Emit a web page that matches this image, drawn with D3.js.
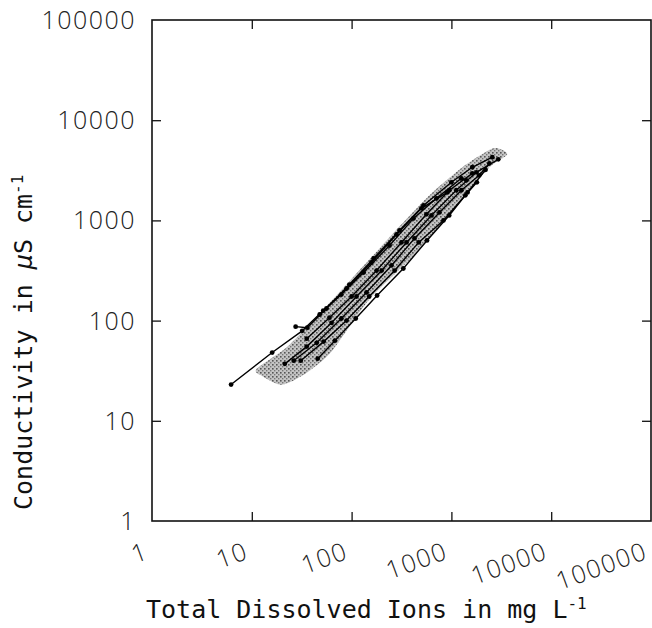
<!DOCTYPE html>
<html lang="en">
  <head>
    <meta charset="utf-8">
    <title>Conductivity vs Total Dissolved Ions</title>
    <style>
body { margin: 0; background: #fff; }
.tick-label { font-family: "Open Sans", "Liberation Sans", sans-serif; font-weight: 300; font-size: 25px; fill: #222; letter-spacing: 1.5px; }
.axis-title { font-family: "DejaVu Sans Mono", monospace; font-size: 25px; fill: #111; }
.series { fill: none; stroke: #000; stroke-width: 1.4px; }
.dot { fill: #000; }
.frame { fill: none; stroke: #111; stroke-width: 1.6px; }
.axis .tick line { stroke: #111; stroke-width: 1.3px; }
.axis .domain { display: none; }
    </style>
    <script src="https://cdn.jsdelivr.net/npm/d3@7"></script>
  </head>
  <body>
    <svg width="652" height="628"></svg>
<script>

var decades = [1, 10, 100, 1000, 10000, 100000];
var innerTicks = [10, 100, 1000, 10000];
var tickLabels = ["1", "10", "100", "1000", "10000", "100000"];

// stations: total dissolved ions (mg/L) against conductivity (uS/cm)
var s1Tdi  = [6.2, 16, 32, 52, 89, 158, 282, 500, 910];
var s1Cond = [23, 48, 79, 126, 209, 380, 724, 1320, 1900];
var s2Tdi  = [27.5, 36, 56, 95, 166, 302, 525, 1000, 1620, 2570];
var s2Cond = [87, 85, 132, 229, 417, 794, 1410, 2400, 3390, 4270];
var s3Tdi  = [21.4, 35.5, 63, 112, 200, 355, 631, 1120, 1780, 2950];
var s3Cond = [37, 55, 95, 174, 316, 603, 1120, 2000, 3020, 4070];
var s4Tdi  = [26.3, 44.7, 79, 141, 251, 427, 759, 1260, 1900, 2400];
var s4Cond = [39.8, 60, 105, 191, 355, 661, 1200, 2000, 2820, 3700];
var s5Tdi  = [30.9, 52.5, 89, 150, 270, 470, 832, 1380, 1800];
var s5Cond = [39.8, 61.7, 100, 174, 316, 603, 1000, 1780, 2400];
var s6Tdi  = [45.7, 68, 110, 180, 330, 570, 950, 1450, 2200];
var s6Cond = [41.7, 63, 105, 178, 331, 631, 1120, 1900, 3200];
var s7Tdi  = [47.9, 79, 132, 240, 417, 708, 1260, 1410];
var s7Cond = [115, 182, 302, 562, 1047, 1660, 2630, 2510];
var s8Tdi  = [35.5, 60, 100, 178, 316, 562, 955, 1620];
var s8Cond = [66, 107, 174, 316, 603, 1150, 2000, 2950];

// outline of the shaded cloud of all samples
var cloudTdi  = [11.2, 24, 64.6, 190, 562, 1290, 2630, 3630, 2400, 1260, 470, 150, 64, 35.5, 20, 12.6];
var cloudCond = [33, 57.5, 162, 525, 1660, 3390, 5250, 4570, 3390, 1585, 501, 162, 50, 30.2, 22.9, 28.2];

var series = [
  [s1Tdi, s1Cond], [s2Tdi, s2Cond], [s3Tdi, s3Cond], [s4Tdi, s4Cond],
  [s5Tdi, s5Cond], [s6Tdi, s6Cond], [s7Tdi, s7Cond], [s8Tdi, s8Cond]
].map(function(s) {
  return s[0].map(function(t, i) { return {tdi: t, cond: s[1][i]}; });
});
var cloud = cloudTdi.map(function(t, i) { return {tdi: t, cond: cloudCond[i]}; });

var svg = d3.select("svg");
var plotLeft = 152, plotRight = 651, plotTop = 20, plotBottom = 521;

var x = d3.scaleLog().domain([1, 100000]).range([plotLeft, plotRight]),
    y = d3.scaleLog().domain([1, 100000]).range([plotBottom, plotTop]);

var defs = svg.append("defs");
var pat = defs.append("pattern")
    .attr("id", "stipple")
    .attr("width", 4).attr("height", 4)
    .attr("patternUnits", "userSpaceOnUse");
pat.append("rect").attr("width", 4).attr("height", 4).attr("fill", "#c4c4c4");
pat.append("rect").attr("x", 0).attr("y", 0).attr("width", 1.6).attr("height", 1.6).attr("fill", "#555");
pat.append("rect").attr("x", 2).attr("y", 2).attr("width", 1.4).attr("height", 1.4).attr("fill", "#777");

svg.append("path")
    .datum(cloud)
    .attr("fill", "url(#stipple)")
    .attr("d", d3.line()
      .curve(d3.curveCardinalClosed.tension(0.3))
      .x(function(d) { return x(d.tdi); })
      .y(function(d) { return y(d.cond); }));

// inward ticks on all four sides
svg.append("g").attr("class", "axis")
    .attr("transform", "translate(0," + plotBottom + ")")
    .call(d3.axisBottom(x).tickValues(innerTicks).tickSize(-9).tickFormat(""));
svg.append("g").attr("class", "axis")
    .attr("transform", "translate(0," + plotTop + ")")
    .call(d3.axisTop(x).tickValues(innerTicks).tickSize(-9).tickFormat(""));
svg.append("g").attr("class", "axis")
    .attr("transform", "translate(" + plotLeft + ",0)")
    .call(d3.axisLeft(y).tickValues(innerTicks).tickSize(-9).tickFormat(""));
svg.append("g").attr("class", "axis")
    .attr("transform", "translate(" + plotRight + ",0)")
    .call(d3.axisRight(y).tickValues(innerTicks).tickSize(-9).tickFormat(""));

svg.append("rect")
    .attr("class", "frame")
    .attr("x", plotLeft).attr("y", plotTop)
    .attr("width", plotRight - plotLeft).attr("height", plotBottom - plotTop);

var line = d3.line()
    .x(function(d) { return x(d.tdi); })
    .y(function(d) { return y(d.cond); });

var st = svg.selectAll(".station")
  .data(series)
  .enter().append("g")
    .attr("class", "station");

st.append("path")
    .attr("class", "series")
    .attr("d", line);

st.selectAll("circle")
  .data(function(d) { return d; })
  .enter().append("circle")
    .attr("class", "dot")
    .attr("r", 2.4)
    .attr("cx", function(d) { return x(d.tdi); })
    .attr("cy", function(d) { return y(d.cond); });

// tick labels
svg.selectAll(".ylab")
  .data(decades)
  .enter().append("text")
    .attr("class", "tick-label")
    .attr("x", 136)
    .attr("y", function(d) { return y(d); })
    .attr("dy", "0.36em")
    .attr("text-anchor", "end")
    .text(function(d, i) { return tickLabels[i]; });

svg.selectAll(".xlab")
  .data(decades)
  .enter().append("text")
    .attr("class", "tick-label")
    .attr("text-anchor", "end")
    .attr("transform", function(d) { return "translate(" + (x(d) - 2) + ",558) rotate(-20)"; })
    .text(function(d, i) { return tickLabels[i]; });

// axis titles
var xt = svg.append("text")
    .attr("class", "axis-title")
    .attr("x", 146)
    .attr("y", 618);
xt.append("tspan").text("Total Dissolved Ions in mg L");
xt.append("tspan").attr("dy", -9).style("font-size", "16px").text("-1");

var yt = svg.append("text")
    .attr("class", "axis-title")
    .attr("transform", "translate(32,510) rotate(-90)");
yt.append("tspan").text("Conductivity in ");
yt.append("tspan").style("font-style", "italic").text("\u03bc");
yt.append("tspan").text("S cm");
yt.append("tspan").attr("dy", -9).style("font-size", "16px").text("-1");

</script>
  </body>
</html>
